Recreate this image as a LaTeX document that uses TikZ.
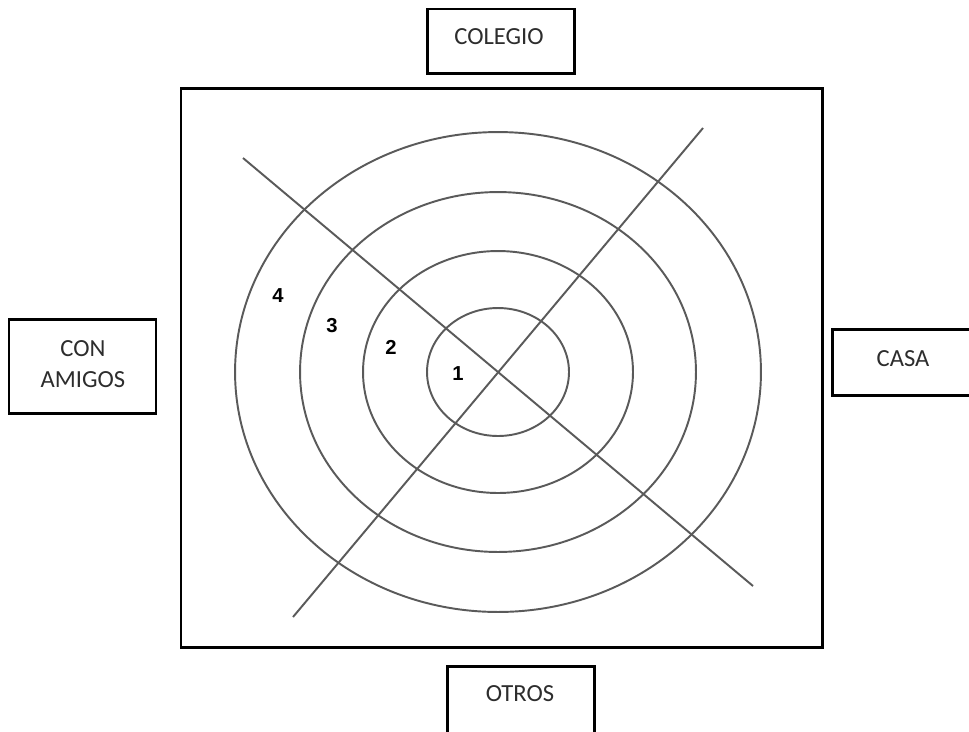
\documentclass[tikz,border=0pt]{standalone}
\usepackage{fontspec}
\setmainfont{Carlito}
\newfontfamily\numfont{Liberation Sans}
\definecolor{linegray}{RGB}{90,90,90}
\definecolor{textgray}{RGB}{45,45,45}
\begin{document}
\begin{tikzpicture}[x=0.02cm,y=-0.02cm,
  labelbox/.style={draw=black,line width=1.7pt,inner sep=0pt},
  labeltext/.style={text=textgray,font=\fontsize{14}{18}\selectfont,align=center,inner sep=0pt},
  ring/.style={draw=linegray,line width=1.1pt},
  ringnum/.style={font=\numfont\bfseries\fontsize{11.5}{13}\selectfont,text=black,inner sep=0pt}]
\useasboundingbox[fill=white] (0,0) rectangle (969,731);
% main frame
\draw[line width=1.7pt] (181,88) rectangle (822,647);
% rings
\draw[ring] (498,372) ellipse [x radius=5.26cm, y radius=4.80cm];
\draw[ring] (498,372) ellipse [x radius=3.96cm, y radius=3.60cm];
\draw[ring] (498,372) ellipse [x radius=2.70cm, y radius=2.42cm];
\draw[ring] (498,372) ellipse [x radius=1.42cm, y radius=1.28cm];
% diagonals
\coordinate (d1a) at (243,158);
\coordinate (d1b) at (753,586);
\coordinate (d2a) at (703,128);
\coordinate (d2b) at (293,617);
\draw[ring] (d1a) -- (d1b);
\draw[ring] (d2a) -- (d2b);
% ring numbers
\node[ringnum] (n4) at (278,296) {4};
\node[ringnum] (n3) at (332,326) {3};
\node[ringnum] (n2) at (391,347) {2};
\node[ringnum] (n1) at (458,374) {1};
% label boxes
\draw[labelbox] (427,9) rectangle (574,73);
\node[labeltext] (colegio) at (499,37) {COLEGIO};
\draw[labelbox] (9,319) rectangle (156,413);
\node[labeltext] (amigos) at (83,364) {CON\\AMIGOS};
\draw[labelbox] (832,329) rectangle (980,395);
\node[labeltext] (casa) at (903,359) {CASA};
\draw[labelbox] (447,666) rectangle (594,745);
\node[labeltext] (otros) at (520,694) {OTROS};
\end{tikzpicture}
\end{document}
